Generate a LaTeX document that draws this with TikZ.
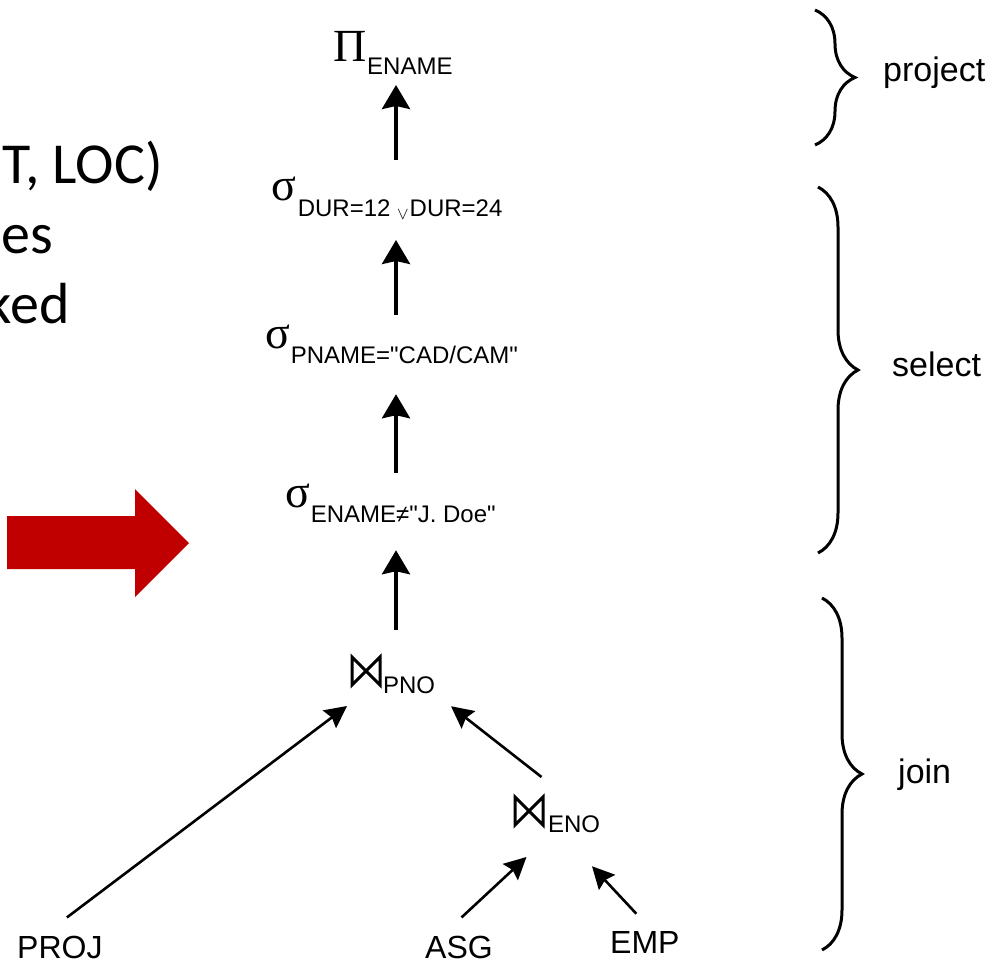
\documentclass[tikz,border=0pt]{standalone}
\usepackage{fontspec}
\setmainfont{Liberation Sans}[Ligatures=TeXOff]
\newfontfamily\gkfont{Liberation Serif}
\newfontfamily\slidefont{Carlito}
\usetikzlibrary{arrows.meta,decorations.pathreplacing,fit}
\definecolor{slidered}{HTML}{C00000}

% operator symbol and its lowered subscript
\newcommand{\opsym}[1]{{\gkfont\fontsize{46}{46}\selectfont #1}}
\newcommand{\opsub}[2][15pt]{\raisebox{-#1}{\fontsize{24}{24}\selectfont #2}}

\begin{document}
\begin{tikzpicture}[x=1pt,y=-1pt,
  op/.style={anchor=base west, inner sep=0pt, outer sep=0pt},
  leaf/.style={anchor=base west, inner sep=0pt, font=\fontsize{32}{32}\selectfont},
  tag/.style={anchor=base west, inner sep=0pt, font=\fontsize{34}{34}\selectfont},
  slide/.style={anchor=base east, inner sep=0pt, font=\slidefont\fontsize{58}{70}\selectfont},
  up/.style={line width=3.5pt, -{Stealth[length=24pt,width=28pt,inset=3pt]}},
  diag/.style={line width=2.6pt, -{Stealth[length=22pt,width=22pt,inset=3pt]}},
  joinbox/.style={minimum width=28pt, minimum height=28pt, inner sep=0pt, outer sep=0pt, anchor=north west},
  bowtie/.style={line width=3pt, line join=miter},
  group/.style={line width=3pt, decorate, decoration={brace, amplitude=40pt}},
  ]
\useasboundingbox (0,0) rectangle (993,963);
\clip (0,0) rectangle (993,963);

% slide text running in from the left
\node[slide] (t1) at (163,183) {ET, LOC)};
\node[slide] (t2) at (53,253) {ees};
\node[slide] (t3) at (70,323) {ked};

% red block arrow
\fill[slidered] (7,516) -- (135,516) -- (135,489) -- (189,543) -- (135,597)
  -- (135,569) -- (7,569) -- cycle;

% query tree
\coordinate (spine) at (396,0);
\node[op] (pi) at (333,62) {\opsym{Π}\kern1pt\opsub[13pt]{ENAME}};
\node[op] (dur) at (271,200) {\opsym{σ}\kern2pt\opsub[16pt]{DUR=12 \raisebox{-3pt}{\fontsize{18}{18}\selectfont$\vee$}\kern1pt DUR=24}};
\node[op] (pname) at (265,348) {\opsym{σ}\kern1pt\opsub{PNAME="CAD/CAM"}};
\node[op] (ename) at (285,507) {\opsym{σ}\kern1pt\opsub{ENAME≠"J. Doe"}};

\node[joinbox] (pnoj) at (352,657) {};
\draw[bowtie] (pnoj.north west) -- (pnoj.south west) -- (pnoj.north east)
  -- (pnoj.south east) -- cycle;
\node[op] (pnosub) at (383,693) {\fontsize{24}{24}\selectfont PNO};
\node[fit=(pnoj)(pnosub), inner sep=0pt] (pno) {};

\node[joinbox] (enoj) at (515,797) {};
\draw[bowtie] (enoj.north west) -- (enoj.south west) -- (enoj.north east)
  -- (enoj.south east) -- cycle;
\node[op] (enosub) at (548,832) {\fontsize{24}{24}\selectfont ENO};
\node[fit=(enoj)(enosub), inner sep=0pt] (eno) {};

\node[leaf] (projrel) at (17,958) {PROJ};
\node[leaf] (asg) at (425,958) {ASG};
\node[leaf] (emp) at (610,953) {EMP};

% edges
\draw[up, shorten <=16pt, shorten >=10pt] (dur.north -| spine) -- (pi.south -| spine);
\draw[up, shorten <=9pt, shorten >=21pt] (pname.north -| spine) -- (dur.south -| spine);
\draw[up, shorten <=10pt, shorten >=31pt] (ename.north -| spine) -- (pname.south -| spine);
\draw[up, shorten <=27pt, shorten >=28pt] (pno.north -| spine) -- (ename.south -| spine);

\draw[diag] ([shift={(7,-18)}]projrel.north) -- ([shift={(-5,21)}]pnoj.south west);
\draw[diag] ([shift={(12.5,-20)}]enoj.north) -- ([shift={(16,13)}]pnosub.south east);
\draw[diag] ([shift={(2.5,-18)}]asg.north) -- ([shift={(-2.5,32)}]enoj.south);
\draw[diag] ([shift={(-8.5,-17)}]emp.north) -- ([shift={(18,34)}]enosub.south);

% phase braces
\draw[group] (815,10) -- (815,145);
\node[tag] (lproject) at (883,82) {project};
\draw[group] (818,187) -- (818,553);
\node[tag] (lselect) at (892,376) {select};
\draw[group] (822,598) -- (822,950);
\node[tag] (ljoin) at (898,783) {join};
\end{tikzpicture}
\end{document}
